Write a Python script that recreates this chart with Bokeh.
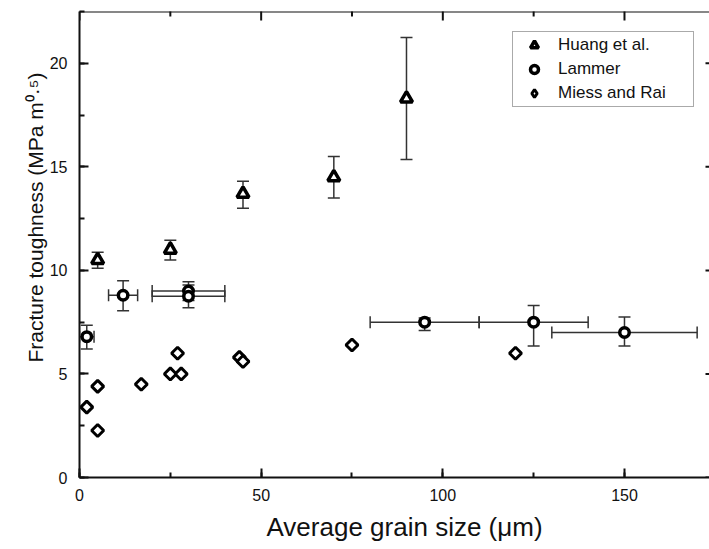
import numpy as np
from bokeh.plotting import figure
from bokeh.models import (ColumnDataSource, Whisker, TeeHead, SingleIntervalTicker,
                          Legend, LegendItem, Range1d, Title, Span)
from bokeh.embed import file_html
from bokeh.resources import INLINE

# ---------------- data ----------------
huang_x = [5, 25, 45, 70, 90]
huang_y = [10.5, 11.0, 13.7, 14.5, 18.3]
huang_err_lo = [0.4, 0.5, 0.7, 1.0, 2.95]
huang_err_hi = [0.37, 0.45, 0.6, 1.0, 2.95]

lammer_x = [2, 12, 30, 30, 95, 125, 150]
lammer_y = [6.8, 8.8, 9.0, 8.75, 7.5, 7.5, 7.0]
lammer_xerr = [2, 4, 10, 10, 15, 15, 20]
lammer_err_lo = [0.6, 0.75, 0.45, 0.55, 0.4, 1.15, 0.65]
lammer_err_hi = [0.55, 0.7, 0.45, 0.55, 0.2, 0.8, 0.75]

miess_x = [2, 5, 5, 17, 25, 27, 28, 44, 45, 75, 120]
miess_y = [3.4, 4.4, 2.27, 4.5, 5.0, 6.0, 5.0, 5.8, 5.6, 6.4, 6.0]

series_names = ["Huang et al.", "Lammer", "Miess and Rai"]
x_major = [0, 50, 100, 150]
x_minor = [25, 75, 125]
y_major = [0, 5, 10, 15, 20]
x_label = "Average grain size (\u03bcm)"
y_label = "Fracture toughness (MPa m\u2070\u00b7\u2075)"

X_END, Y_END = 173.4, 22.5
FONT = "Liberation Sans"
INK = "#111111"

p = figure(width=709, height=549, output_backend="svg", toolbar_location=None,
           x_range=Range1d(0, X_END), y_range=Range1d(0, Y_END),
           min_border_left=79, min_border_right=0, min_border_top=11, min_border_bottom=72)
p.grid.visible = False
p.outline_line_color = None
p.background_fill_color = "white"
p.border_fill_color = "white"

p.xaxis.ticker = SingleIntervalTicker(interval=50, num_minor_ticks=2)
p.yaxis.ticker = SingleIntervalTicker(interval=5, num_minor_ticks=2)
for ax in (p.xaxis[0], p.yaxis[0]):
    ax.axis_line_width = 2
    ax.axis_line_color = INK
    ax.major_tick_line_color = INK
    ax.minor_tick_line_color = INK
    ax.major_tick_line_width = 2
    ax.minor_tick_line_width = 2
    ax.major_tick_in = 9
    ax.major_tick_out = 0
    ax.minor_tick_in = 5
    ax.minor_tick_out = 0
    ax.major_label_text_font = FONT
    ax.major_label_text_font_size = "16px"
    ax.major_label_text_color = INK
p.xaxis[0].major_label_standoff = 11
p.yaxis[0].major_label_standoff = 12

# top spine and inward ticks on top / right (frame edges)
p.add_layout(Span(location=Y_END, dimension="width", line_color=INK, line_width=2))
p.scatter(x_major, [Y_END] * len(x_major), marker="dash", angle=np.pi / 2, size=18,
          line_color=INK, line_width=2)
p.scatter(x_minor, [Y_END] * len(x_minor), marker="dash", angle=np.pi / 2, size=10,
          line_color=INK, line_width=2)
p.scatter([X_END] * len(y_major), y_major, marker="dash", size=8,
          line_color=INK, line_width=2)

# ---------------- error bars ----------------
def whisk(src, base, lo, hi, dim):
    w = Whisker(source=src, base=base, lower=lo, upper=hi, dimension=dim,
                line_color="#333333", line_width=1.5, level="underlay",
                upper_head=TeeHead(size=12, line_color="#333333", line_width=1.5),
                lower_head=TeeHead(size=12, line_color="#333333", line_width=1.5))
    p.add_layout(w)

hs = ColumnDataSource(dict(x=huang_x, y=huang_y,
                           lo=[y - e for y, e in zip(huang_y, huang_err_lo)],
                           hi=[y + e for y, e in zip(huang_y, huang_err_hi)]))
ls = ColumnDataSource(dict(x=lammer_x, y=lammer_y,
                           lo=[y - e for y, e in zip(lammer_y, lammer_err_lo)],
                           hi=[y + e for y, e in zip(lammer_y, lammer_err_hi)],
                           xlo=[x - e for x, e in zip(lammer_x, lammer_xerr)],
                           xhi=[x + e for x, e in zip(lammer_x, lammer_xerr)]))
ms = ColumnDataSource(dict(x=miess_x, y=miess_y))

whisk(hs, "x", "lo", "hi", "height")
whisk(ls, "x", "lo", "hi", "height")
whisk(ls, "y", "xlo", "xhi", "width")

# ---------------- markers ----------------
r1 = p.scatter("x", "y", source=hs, marker="triangle", size=12, fill_color="white",
               line_color="black", line_width=3.5)
r2 = p.scatter("x", "y", source=ls, marker="circle", size=9.5, fill_color="white",
               line_color="black", line_width=3.5)
# diamond swatch used by the legend (drawn underneath and fully covered by r3)
r3_leg = p.scatter("x", "y", source=ms, marker="diamond", size=9, fill_color="white",
                   line_color="black", line_width=3)
r3 = p.scatter("x", "y", source=ms, marker="square", angle=np.pi / 4, size=8.5,
               fill_color="white", line_color="black", line_width=3)

legend = Legend(items=[LegendItem(label=series_names[0], renderers=[r1]),
                       LegendItem(label=series_names[1], renderers=[r2]),
                       LegendItem(label=series_names[2], renderers=[r3_leg])],
                location=(433, 370), margin=0, padding=3, spacing=4,
                glyph_width=36, glyph_height=20, label_height=20, label_width=132,
                label_standoff=6, label_text_font=FONT, label_text_font_size="17px",
                label_text_color=INK, border_line_color="#555555", border_line_width=1.5,
                background_fill_color="white", background_fill_alpha=1)
p.add_layout(legend)

# ---------------- axis titles ----------------
p.add_layout(Title(text=x_label, align="left", offset=187, standoff=12,
                   text_font=FONT, text_font_size="26px", text_font_style="normal",
                   text_color=INK), "below")
p.add_layout(Title(text=y_label, align="left", offset=115, standoff=0,
                   text_font=FONT, text_font_size="21px", text_font_style="normal",
                   text_color=INK), "left")

open("out.html", "w").write(file_html(p, INLINE))
